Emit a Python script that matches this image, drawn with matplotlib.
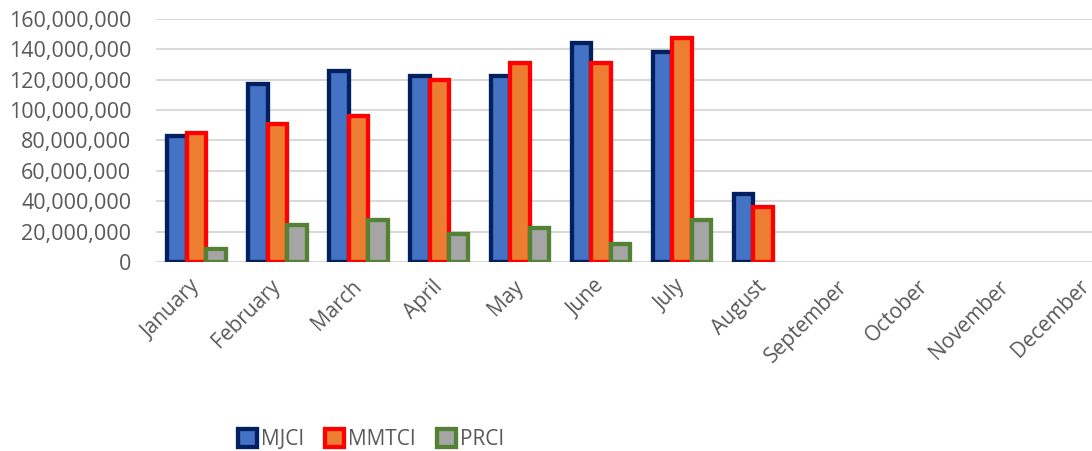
import matplotlib.pyplot as plt
import numpy as np
from matplotlib.ticker import FuncFormatter

months = ['January', 'February', 'March', 'April', 'May', 'June', 'July',
          'August', 'September', 'October', 'November', 'December']
mjci = [82.8e6, 117.2e6, 125.5e6, 122.6e6, 122.6e6, 144.1e6, 138.1e6, 44.8e6]
mmtci = [84.7e6, 91.1e6, 96.1e6, 119.5e6, 131.3e6, 131.3e6, 147.4e6, 36.0e6]
prci = [8.3e6, 24.7e6, 27.8e6, 18.2e6, 22.4e6, 11.6e6, 27.8e6]

series = [('MJCI', mjci, '#4472C4', '#002060'),
          ('MMTCI', mmtci, '#ED7D31', '#FF0000'),
          ('PRCI', prci, '#A5A5A5', '#548235')]

plt.rcParams['font.family'] = ['Open Sans', 'DejaVu Sans']

fig = plt.figure(figsize=(10.92, 4.51), dpi=100)
ax = fig.add_axes([0.143, 0.419, 1.032 - 0.143, 0.958 - 0.419])

w = 0.24
x = np.arange(len(months))
handles = []
for i, (name, vals, fc, ec) in enumerate(series):
    pos = np.arange(len(vals)) + (i - 1) * w
    b = ax.bar(pos, vals, width=w, color=fc, edgecolor=ec, linewidth=3.1,
               label=name, zorder=3)
    handles.append(b)

ax.set_xlim(-0.5, len(months) - 0.5)
ax.set_ylim(0, 160e6)
ax.set_yticks(np.arange(0, 160e6 + 1, 20e6))
ax.yaxis.set_major_formatter(FuncFormatter(lambda v, p: f'{int(v):,}'))
# labels sit a little left of the group centre, like the original
ax.set_xticks(x - 0.09)
ax.set_xticklabels(months, rotation=45, ha='right', rotation_mode='anchor')
ax.grid(axis='y', color='#D9D9D9', linewidth=1.5, zorder=0)
for s in ax.spines.values():
    s.set_visible(False)
ax.tick_params(axis='y', length=0, pad=18, labelsize=15.5, labelcolor='#595959')
ax.tick_params(axis='x', length=0, pad=10, labelsize=15, labelcolor='#595959')

fig.legend(handles=handles, loc='center', bbox_to_anchor=(0.34, 0.025),
           ncol=3, frameon=False, fontsize=15, labelcolor='#595959',
           handlelength=0.9, handleheight=0.9, handletextpad=0.2,
           columnspacing=1.0)

fig.savefig('out.png', dpi=100)
